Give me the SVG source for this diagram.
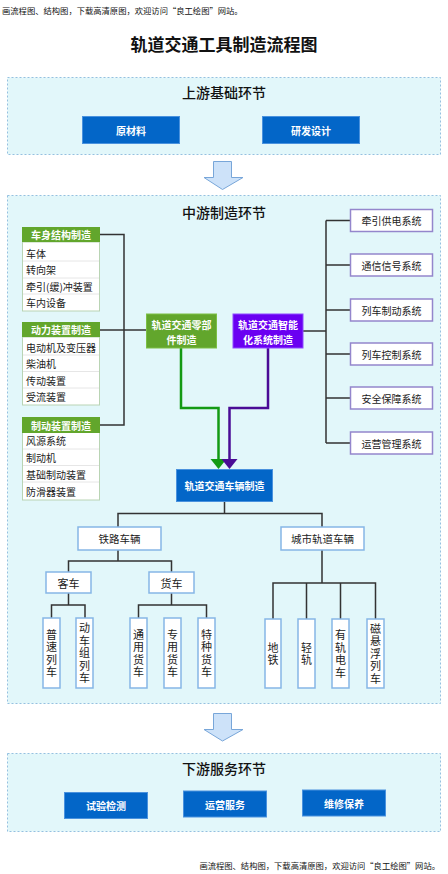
<svg xmlns="http://www.w3.org/2000/svg" width="448" height="874" viewBox="0 0 448 874">
<style>
text{font-family:"Noto Sans CJK SC","Noto Sans",sans-serif;dominant-baseline:central}
.note{font-size:8.3px;fill:#111}
.title{font-size:17px;font-weight:bold;fill:#111;text-anchor:middle}
.sec{fill:#e2f7fa;stroke:#95c0e0;stroke-width:1;stroke-dasharray:2 2}
.sect{font-size:14px;font-weight:500;fill:#111;text-anchor:middle}
.btn{fill:#0366c8;stroke:#4a92de;stroke-width:1}
.btnt{font-size:10px;font-weight:bold;fill:#fff;text-anchor:middle}
.arr{fill:#cde2f9;stroke:#78a6d9;stroke-width:1}
.hdr{fill:#62a62c}
.hdrt{font-size:10px;font-weight:bold;fill:#fff;text-anchor:middle}
.lst{fill:#fff;stroke:#b9d4b4;stroke-width:1}
.sep{stroke:#e6e6e6;stroke-width:1}
.it{font-size:10px;fill:#222}
.sys{fill:#fff;stroke:#9486cc;stroke-width:1.5}
.syst{font-size:10px;fill:#222;text-anchor:middle}
.tb{fill:#fff;stroke:#86b6e6;stroke-width:1.5}
.tbt{font-size:10.5px;fill:#222;text-anchor:middle}
.vt{font-size:11px;fill:#222;text-anchor:middle;writing-mode:vertical-rl;letter-spacing:1.5px}
.ln{fill:none;stroke:#333;stroke-width:1.5}
</style>
<text class="note" x="2" y="10">画流程图、结构图，下载高清原图，欢迎访问“良工绘图”网站。</text>
<text class="title" x="224" y="43">轨道交通工具制造流程图</text>

<g id="upstream">
<rect class="sec" x="7.5" y="77.5" width="433" height="77"/>
<text class="sect" x="224" y="92">上游基础环节</text>
</g>
<g id="raw"><rect class="btn" x="82.5" y="116.5" width="97" height="27"/><text class="btnt" x="131" y="130">原材料</text></g>
<g id="rnd"><rect class="btn" x="262.5" y="116.5" width="97" height="27"/><text class="btnt" x="311" y="130">研发设计</text></g>

<g id="arrow1"><path class="arr" d="M213.5,161.5 H231.5 V177.5 H243 L222.5,189.5 L204,177.5 H213.5 Z"/></g>

<g id="midstream">
<rect class="sec" x="7.5" y="195.5" width="433" height="508"/>
<text class="sect" x="224" y="212">中游制造环节</text>
</g>

<g id="connectors">
<path class="ln" d="M100,234.5 H124 V425 H100"/>
<path class="ln" d="M100,330 H147"/>
<path class="ln" d="M303,331 H326"/>
<path class="ln" d="M326,220.5 V443 M326,220.5 H350 M326,265 H350 M326,310 H350 M326,354 H350 M326,398 H350 M326,443 H350"/>
<path d="M181,348 V408 H218.5 V462" fill="none" stroke="#139a13" stroke-width="2.5"/>
<path d="M210.5,459 H226.5 L218.5,469 Z" fill="#139a13"/>
<path d="M268,348 V408 H229.5 V462" fill="none" stroke="#4a0c96" stroke-width="2.5"/>
<path d="M221.5,459 H237.5 L229.5,469 Z" fill="#4a0c96"/>
<path class="ln" d="M224.5,502 V513.5 M118,527 V513.5 H322 V527"/>
<path class="ln" d="M118,550 V561 M68.5,572 V561 H171.5 V572"/>
<path class="ln" d="M68.5,593 V605 M51.5,618 V605 H85 V618"/>
<path class="ln" d="M171.5,593 V605 M138.5,618 V605 H206.5 V618"/>
<path class="ln" d="M322,550 V583 M273,619 V583 H375.5 V619 M306.5,583 V619 M340.5,583 V619"/>
</g>

<g id="list1">
<rect class="lst" x="22.5" y="242" width="77" height="69"/>
<line class="sep" x1="23" y1="261" x2="99" y2="261"/><line class="sep" x1="23" y1="278" x2="99" y2="278"/><line class="sep" x1="23" y1="294" x2="99" y2="294"/>
<rect class="hdr" x="22" y="227" width="78" height="15"/>
<text class="hdrt" x="61" y="234.5">车身结构制造</text>
<text class="it" x="26" y="253">车体</text>
<text class="it" x="26" y="269.5">转向架</text>
<text class="it" x="26" y="286">牵引(缓)冲装置</text>
<text class="it" x="26" y="302.5">车内设备</text>
</g>
<g id="list2">
<rect class="lst" x="22.5" y="337" width="77" height="68"/>
<line class="sep" x1="23" y1="355" x2="99" y2="355"/><line class="sep" x1="23" y1="371.5" x2="99" y2="371.5"/><line class="sep" x1="23" y1="388" x2="99" y2="388"/>
<rect class="hdr" x="22" y="322" width="78" height="15"/>
<text class="hdrt" x="61" y="329.5">动力装置制造</text>
<text class="it" x="26" y="347">电动机及变压器</text>
<text class="it" x="26" y="363.5">柴油机</text>
<text class="it" x="26" y="380">传动装置</text>
<text class="it" x="26" y="396.5">受流装置</text>
</g>
<g id="list3">
<rect class="lst" x="22.5" y="432" width="77" height="68"/>
<line class="sep" x1="23" y1="449" x2="99" y2="449"/><line class="sep" x1="23" y1="465.5" x2="99" y2="465.5"/><line class="sep" x1="23" y1="482" x2="99" y2="482"/>
<rect class="hdr" x="22" y="417" width="78" height="16"/>
<text class="hdrt" x="61" y="425">制动装置制造</text>
<text class="it" x="26" y="440.5">风源系统</text>
<text class="it" x="26" y="457">制动机</text>
<text class="it" x="26" y="474">基础制动装置</text>
<text class="it" x="26" y="491">防滑器装置</text>
</g>

<g id="parts"><rect x="146.5" y="314" width="70" height="34" fill="#62a62c" stroke="#7cbf45" stroke-width="1"/><text class="btnt"><tspan x="181.5" y="323.5">轨道交通零部</tspan><tspan x="181.5" y="338.5">件制造</tspan></text></g>
<g id="intel"><rect x="233" y="314" width="70" height="34" fill="#6a00f2" stroke="#8e4dff" stroke-width="1"/><text class="btnt"><tspan x="268" y="323.5">轨道交通智能</tspan><tspan x="268" y="338.5">化系统制造</tspan></text></g>

<g id="sys1"><rect class="sys" x="350.5" y="209.5" width="82" height="22"/><text class="syst" x="391.5" y="220.5">牵引供电系统</text></g>
<g id="sys2"><rect class="sys" x="350.5" y="254" width="82" height="22"/><text class="syst" x="391.5" y="265">通信信号系统</text></g>
<g id="sys3"><rect class="sys" x="350.5" y="299" width="82" height="22"/><text class="syst" x="391.5" y="310">列车制动系统</text></g>
<g id="sys4"><rect class="sys" x="350.5" y="343" width="82" height="22"/><text class="syst" x="391.5" y="354">列车控制系统</text></g>
<g id="sys5"><rect class="sys" x="350.5" y="387" width="82" height="22"/><text class="syst" x="391.5" y="398">安全保障系统</text></g>
<g id="sys6"><rect class="sys" x="350.5" y="432" width="82" height="22"/><text class="syst" x="391.5" y="443">运营管理系统</text></g>

<g id="vehicle"><rect class="btn" x="176.5" y="469.5" width="96" height="32"/><text class="btnt" x="224.5" y="485.5">轨道交通车辆制造</text></g>

<g id="rail"><rect class="tb" x="78" y="527" width="83" height="23"/><text class="tbt" x="119.5" y="538.5">铁路车辆</text></g>
<g id="urban"><rect class="tb" x="281" y="527" width="83" height="23"/><text class="tbt" x="322.5" y="538.5">城市轨道车辆</text></g>
<g id="passenger"><rect class="tb" x="46" y="572" width="45" height="21"/><text class="tbt" x="68.5" y="582.5" style="font-size:11px">客车</text></g>
<g id="freight"><rect class="tb" x="149" y="572" width="45" height="21"/><text class="tbt" x="171.5" y="582.5" style="font-size:11px">货车</text></g>

<g id="v1"><rect class="tb" x="43" y="618" width="17" height="70"/><text class="vt" x="51.5" y="654">普速列车</text></g>
<g id="v2"><rect class="tb" x="76" y="618" width="17" height="70"/><text class="vt" x="84.5" y="654">动车组列车</text></g>
<g id="v3"><rect class="tb" x="130" y="618" width="17" height="70"/><text class="vt" x="138.5" y="654">通用货车</text></g>
<g id="v4"><rect class="tb" x="164" y="618" width="17" height="70"/><text class="vt" x="172.5" y="654">专用货车</text></g>
<g id="v5"><rect class="tb" x="198" y="618" width="17" height="70"/><text class="vt" x="206.5" y="654">特种货车</text></g>
<g id="v6"><rect class="tb" x="265" y="619" width="16" height="69"/><text class="vt" x="273" y="654.5">地铁</text></g>
<g id="v7"><rect class="tb" x="298" y="619" width="17" height="69"/><text class="vt" x="306.5" y="654.5">轻轨</text></g>
<g id="v8"><rect class="tb" x="332" y="619" width="17" height="69"/><text class="vt" x="340.5" y="654.5">有轨电车</text></g>
<g id="v9"><rect class="tb" x="367" y="619" width="17" height="69"/><text class="vt" x="375.5" y="654.5">磁悬浮列车</text></g>

<g id="arrow2"><path class="arr" d="M213.5,713.5 H231.5 V729.5 H243 L222.5,741 L204,729.5 H213.5 Z"/></g>

<g id="downstream">
<rect class="sec" x="7.5" y="753.5" width="433" height="78"/>
<text class="sect" x="224" y="768">下游服务环节</text>
</g>
<g id="test"><rect class="btn" x="64.5" y="792.5" width="83" height="26"/><text class="btnt" x="106" y="805.5">试验检测</text></g>
<g id="ops"><rect class="btn" x="183.5" y="791" width="83" height="26"/><text class="btnt" x="225" y="804">运营服务</text></g>
<g id="maint"><rect class="btn" x="302.5" y="790" width="83" height="26"/><text class="btnt" x="344" y="803">维修保养</text></g>

<text class="note" x="440" y="865" text-anchor="end">画流程图、结构图，下载高清原图，欢迎访问“良工绘图”网站。</text>
</svg>
